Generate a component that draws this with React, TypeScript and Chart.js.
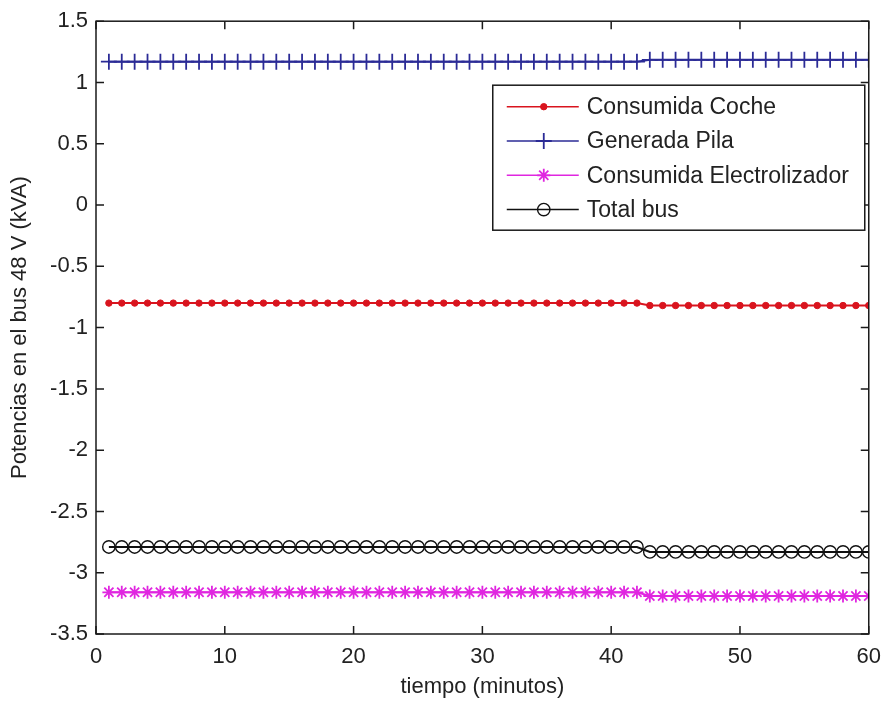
import React, { useEffect, useRef } from 'react';
import { Chart, registerables } from 'chart.js';

Chart.register(...registerables);

// Sample times (minutes)
const minutes = [
  1, 2, 3, 4, 5, 6, 7, 8, 9, 10, 11, 12, 13, 14, 15, 16, 17, 18, 19, 20,
  21, 22, 23, 24, 25, 26, 27, 28, 29, 30, 31, 32, 33, 34, 35, 36, 37, 38, 39, 40,
  41, 42, 43, 44, 45, 46, 47, 48, 49, 50, 51, 52, 53, 54, 55, 56, 57, 58, 59, 60,
];

// Power on the 48 V bus (kVA)
const consumidaCoche = [
  -0.80, -0.80, -0.80, -0.80, -0.80, -0.80, -0.80, -0.80, -0.80, -0.80,
  -0.80, -0.80, -0.80, -0.80, -0.80, -0.80, -0.80, -0.80, -0.80, -0.80,
  -0.80, -0.80, -0.80, -0.80, -0.80, -0.80, -0.80, -0.80, -0.80, -0.80,
  -0.80, -0.80, -0.80, -0.80, -0.80, -0.80, -0.80, -0.80, -0.80, -0.80,
  -0.80, -0.80, -0.82, -0.82, -0.82, -0.82, -0.82, -0.82, -0.82, -0.82,
  -0.82, -0.82, -0.82, -0.82, -0.82, -0.82, -0.82, -0.82, -0.82, -0.82,
];

const generadaPila = [
  1.17, 1.17, 1.17, 1.17, 1.17, 1.17, 1.17, 1.17, 1.17, 1.17,
  1.17, 1.17, 1.17, 1.17, 1.17, 1.17, 1.17, 1.17, 1.17, 1.17,
  1.17, 1.17, 1.17, 1.17, 1.17, 1.17, 1.17, 1.17, 1.17, 1.17,
  1.17, 1.17, 1.17, 1.17, 1.17, 1.17, 1.17, 1.17, 1.17, 1.17,
  1.17, 1.17, 1.185, 1.185, 1.185, 1.185, 1.185, 1.185, 1.185, 1.185,
  1.185, 1.185, 1.185, 1.185, 1.185, 1.185, 1.185, 1.185, 1.185, 1.185,
];

const consumidaElectrolizador = [
  -3.16, -3.16, -3.16, -3.16, -3.16, -3.16, -3.16, -3.16, -3.16, -3.16,
  -3.16, -3.16, -3.16, -3.16, -3.16, -3.16, -3.16, -3.16, -3.16, -3.16,
  -3.16, -3.16, -3.16, -3.16, -3.16, -3.16, -3.16, -3.16, -3.16, -3.16,
  -3.16, -3.16, -3.16, -3.16, -3.16, -3.16, -3.16, -3.16, -3.16, -3.16,
  -3.16, -3.16, -3.19, -3.19, -3.19, -3.19, -3.19, -3.19, -3.19, -3.19,
  -3.19, -3.19, -3.19, -3.19, -3.19, -3.19, -3.19, -3.19, -3.19, -3.19,
];

const totalBus = [
  -2.79, -2.79, -2.79, -2.79, -2.79, -2.79, -2.79, -2.79, -2.79, -2.79,
  -2.79, -2.79, -2.79, -2.79, -2.79, -2.79, -2.79, -2.79, -2.79, -2.79,
  -2.79, -2.79, -2.79, -2.79, -2.79, -2.79, -2.79, -2.79, -2.79, -2.79,
  -2.79, -2.79, -2.79, -2.79, -2.79, -2.79, -2.79, -2.79, -2.79, -2.79,
  -2.79, -2.79, -2.83, -2.83, -2.83, -2.83, -2.83, -2.83, -2.83, -2.83,
  -2.83, -2.83, -2.83, -2.83, -2.83, -2.83, -2.83, -2.83, -2.83, -2.83,
];

const seriesNames = ['Consumida Coche', 'Generada Pila', 'Consumida Electrolizador', 'Total bus'];
const xTicks = [0, 10, 20, 30, 40, 50, 60];
const yTicks = [-3.5, -3, -2.5, -2, -1.5, -1, -0.5, 0, 0.5, 1, 1.5];
const xTitle = 'tiempo (minutos)';
const yTitle = 'Potencias en el bus 48 V (kVA)';

const FONT = '"Liberation Sans", Arial, Helvetica, sans-serif';
const TEXT_SIZE = 22;
const LEGEND_SIZE = 23;
const TEXT_COLOR = '#222222';

type Marker = { style: string; radius: number; fill: boolean; width: number };

const markers: Marker[] = [
  { style: 'circle', radius: 3.2, fill: true, width: 1 },
  { style: 'cross', radius: 8, fill: false, width: 1.8 },
  { style: 'star', radius: 6.5, fill: false, width: 1.8 },
  { style: 'circle', radius: 6.2, fill: false, width: 1.4 },
];
const colors = ['#d9141e', '#2b2b96', '#e026e0', '#111111'];
const seriesValues = [consumidaCoche, generadaPila, consumidaElectrolizador, totalBus];

function drawMarker(ctx: CanvasRenderingContext2D, m: Marker, color: string, x: number, y: number) {
  ctx.save();
  ctx.strokeStyle = color;
  ctx.fillStyle = color;
  ctx.lineWidth = m.width;
  ctx.beginPath();
  const r = m.radius;
  if (m.style === 'circle') {
    ctx.arc(x, y, r, 0, Math.PI * 2);
    if (m.fill) ctx.fill();
    ctx.stroke();
  } else {
    ctx.moveTo(x, y - r);
    ctx.lineTo(x, y + r);
    ctx.moveTo(x - r, y);
    ctx.lineTo(x + r, y);
    if (m.style === 'star') {
      const d = r * Math.SQRT1_2;
      ctx.moveTo(x - d, y - d);
      ctx.lineTo(x + d, y + d);
      ctx.moveTo(x - d, y + d);
      ctx.lineTo(x + d, y - d);
    }
    ctx.stroke();
  }
  ctx.restore();
}

// Boxed axes with inward tick marks on all four sides
const axesFrame = {
  id: 'axesFrame',
  afterDatasetsDraw(chart: any) {
    const { ctx, chartArea: a, scales } = chart;
    const xs = scales.x;
    const ys = scales.y;
    const L = 8;
    ctx.save();
    ctx.strokeStyle = '#1a1a1a';
    ctx.lineWidth = 1.5;
    ctx.strokeRect(a.left, a.top, a.right - a.left, a.bottom - a.top);
    ctx.beginPath();
    xTicks.forEach((v) => {
      const px = xs.getPixelForValue(v);
      ctx.moveTo(px, a.bottom);
      ctx.lineTo(px, a.bottom - L);
      ctx.moveTo(px, a.top);
      ctx.lineTo(px, a.top + L);
    });
    yTicks.forEach((v) => {
      const py = ys.getPixelForValue(v);
      ctx.moveTo(a.left, py);
      ctx.lineTo(a.left + L, py);
      ctx.moveTo(a.right, py);
      ctx.lineTo(a.right - L, py);
    });
    ctx.stroke();
    ctx.restore();
  },
};

// Legend box in the upper right of the axes
const boxedLegend = {
  id: 'boxedLegend',
  afterDraw(chart: any) {
    const { ctx, chartArea: a } = chart;
    const w = 372;
    const h = 145;
    const right = a.right - 4;
    const left = right - w;
    const top = a.top + 64;
    const rowGap = 34.3;
    ctx.save();
    ctx.fillStyle = '#ffffff';
    ctx.fillRect(left, top, w, h);
    ctx.strokeStyle = '#1a1a1a';
    ctx.lineWidth = 1.5;
    ctx.strokeRect(left, top, w, h);
    ctx.font = `${LEGEND_SIZE}px ${FONT}`;
    ctx.textBaseline = 'middle';
    ctx.textAlign = 'left';
    seriesNames.forEach((name, i) => {
      const y = top + 21.5 + i * rowGap;
      ctx.strokeStyle = colors[i];
      ctx.lineWidth = 1.5;
      ctx.beginPath();
      ctx.moveTo(left + 14, y);
      ctx.lineTo(left + 86, y);
      ctx.stroke();
      drawMarker(ctx, markers[i], colors[i], left + 51, y);
      ctx.fillStyle = TEXT_COLOR;
      ctx.fillText(name, left + 94, y + 1);
    });
    ctx.restore();
  },
};

export default function App() {
  const canvasRef = useRef<HTMLCanvasElement | null>(null);

  useEffect(() => {
    const canvas = canvasRef.current;
    if (!canvas) return;

    const datasets = seriesNames.map((name, i) => ({
      label: name,
      data: minutes.map((m, k) => ({ x: m, y: seriesValues[i][k] })),
      borderColor: colors[i],
      backgroundColor: markers[i].fill ? colors[i] : 'rgba(0,0,0,0)',
      borderWidth: 2,
      pointStyle: markers[i].style,
      pointRadius: markers[i].radius,
      pointBorderWidth: markers[i].width,
      pointBorderColor: colors[i],
      pointBackgroundColor: markers[i].fill ? colors[i] : 'rgba(0,0,0,0)',
      tension: 0,
      fill: false,
    }));

    const chart = new Chart(canvas, {
      type: 'line',
      data: { datasets },
      plugins: [axesFrame, boxedLegend],
      options: {
        animation: false,
        responsive: false,
        devicePixelRatio: 1,
        layout: { padding: { top: 18, right: 21, left: 0, bottom: 0 } },
        plugins: {
          legend: { display: false },
          tooltip: { enabled: false },
        },
        scales: {
          x: {
            type: 'linear',
            min: 0,
            max: 60,
            afterFit: (s: any) => {
              s.height = 70;
            },
            afterBuildTicks: (s: any) => {
              s.ticks = xTicks.map((v) => ({ value: v }));
            },
            grid: { display: false, drawTicks: false },
            border: { display: false },
            ticks: {
              padding: 10,
              color: TEXT_COLOR,
              font: { family: FONT, size: TEXT_SIZE },
              maxRotation: 0,
              autoSkip: false,
              callback: (v: any) => String(v),
            },
            title: {
              display: true,
              text: xTitle,
              color: TEXT_COLOR,
              font: { family: FONT, size: TEXT_SIZE },
              padding: { top: 0, bottom: 4 },
            },
          },
          y: {
            type: 'linear',
            min: -3.5,
            max: 1.5,
            afterFit: (s: any) => {
              s.width = 96;
            },
            afterBuildTicks: (s: any) => {
              s.ticks = yTicks.map((v) => ({ value: v }));
            },
            grid: { display: false, drawTicks: false },
            border: { display: false },
            ticks: {
              padding: 8,
              color: TEXT_COLOR,
              font: { family: FONT, size: TEXT_SIZE },
              autoSkip: false,
              callback: (v: any) => String(v),
            },
            title: {
              display: true,
              text: yTitle,
              color: TEXT_COLOR,
              font: { family: FONT, size: TEXT_SIZE },
              padding: { top: 7, bottom: 0 },
            },
          },
        },
      } as any,
    });

    return () => {
      chart.destroy();
    };
  }, []);

  return (
    <div style={{ position: 'fixed', left: 0, top: 0, width: 891, height: 704, background: '#ffffff' }}>
      <canvas ref={canvasRef} width={891} height={704} />
    </div>
  );
}
